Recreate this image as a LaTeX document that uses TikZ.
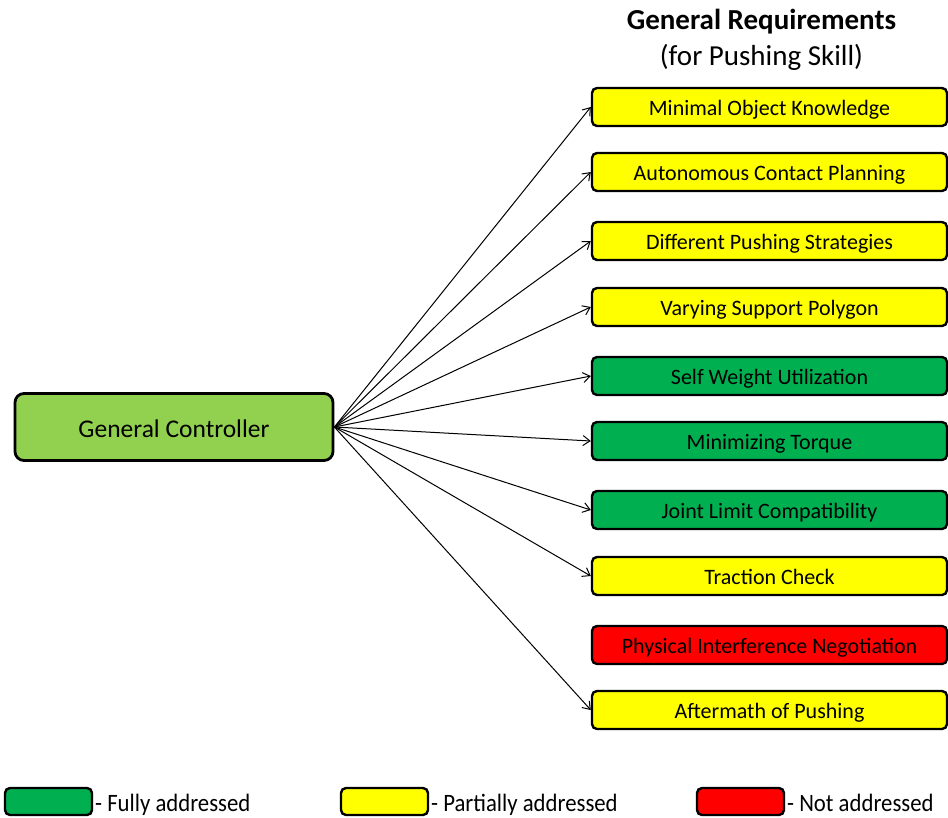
\documentclass[tikz,border=0pt]{standalone}
\usepackage{fontspec}
\setmainfont{Carlito}
\usetikzlibrary{arrows.meta}
\definecolor{ctrlgreen}{HTML}{92D050}
\definecolor{fullgreen}{HTML}{00B050}
\definecolor{partyellow}{HTML}{FFFF00}
\definecolor{notred}{HTML}{FF0000}
\tikzset{
  reqbox/.style={draw=black, line width=2.4pt, rounded corners=5pt,
    minimum width=355pt, minimum height=38pt, inner sep=0pt,
    text height=20pt, text depth=4pt,
    font=\fontsize{22}{24}\selectfont},
  ctrlbox/.style={draw=black, line width=2.8pt, rounded corners=9pt, fill=ctrlgreen,
    minimum width=318pt, minimum height=67pt, inner sep=0pt,
    text height=24pt, text depth=4pt,
    font=\fontsize{25.5}{28}\selectfont},
  legbox/.style={draw=black, line width=2.4pt, rounded corners=5pt,
    minimum width=87pt, minimum height=27pt, inner sep=0pt},
  legtext/.style={anchor=base west, inner sep=0pt, xscale=0.91,
    font=\fontsize{25}{26}\selectfont},
  link/.style={-{Straight Barb[length=7pt,width=10pt]}, line width=1pt},
}
\begin{document}
\begin{tikzpicture}[x=1pt,y=-1pt]
\useasboundingbox (0,0) rectangle (948,817);

% title
\node[font=\bfseries\fontsize{29}{31}\selectfont] (title) at (761.5,22) {General Requirements};
\node[font=\fontsize{29}{31}\selectfont] (subtitle) at (761.5,57) {(for Pushing Skill)};

% controller
\node[ctrlbox] (ctrl) at (174,427) {General Controller};

% requirements
\node[reqbox, fill=partyellow] (r1)  at (769.5,107) {Minimal Object Knowledge};
\node[reqbox, fill=partyellow] (r2)  at (769.5,172) {Autonomous Contact Planning};
\node[reqbox, fill=partyellow] (r3)  at (769.5,241) {Different Pushing Strategies};
\node[reqbox, fill=partyellow] (r4)  at (769.5,307) {Varying Support Polygon};
\node[reqbox, fill=fullgreen]  (r5)  at (769.5,376) {Self Weight Utilization};
\node[reqbox, fill=fullgreen]  (r6)  at (769.5,441) {Minimizing Torque};
\node[reqbox, fill=fullgreen]  (r7)  at (769.5,510) {Joint Limit Compatibility};
\node[reqbox, fill=partyellow] (r8)  at (769.5,576) {Traction Check};
\node[reqbox, fill=notred]     (r9)  at (769.5,645) {Physical Interference Negotiation};
\node[reqbox, fill=partyellow] (r10) at (769.5,710) {Aftermath of Pushing};

% connectors
\foreach \r in {r1,r2,r3,r4,r5,r6,r7,r8,r10}
  \draw[link] (ctrl.east) -- (\r.west);

% legend
\node[legbox, fill=fullgreen]  (lg) at (48.5,801.5) {};
\node[legtext] (lgt) at (95,811) {- Fully addressed};
\node[legbox, fill=partyellow] (ly) at (384.5,801.5) {};
\node[legtext] (lyt) at (431,811) {- Partially addressed};
\node[legbox, fill=notred]     (lr) at (740.5,801.5) {};
\node[legtext] (lrt) at (787,811) {- Not addressed};
\end{tikzpicture}
\end{document}
